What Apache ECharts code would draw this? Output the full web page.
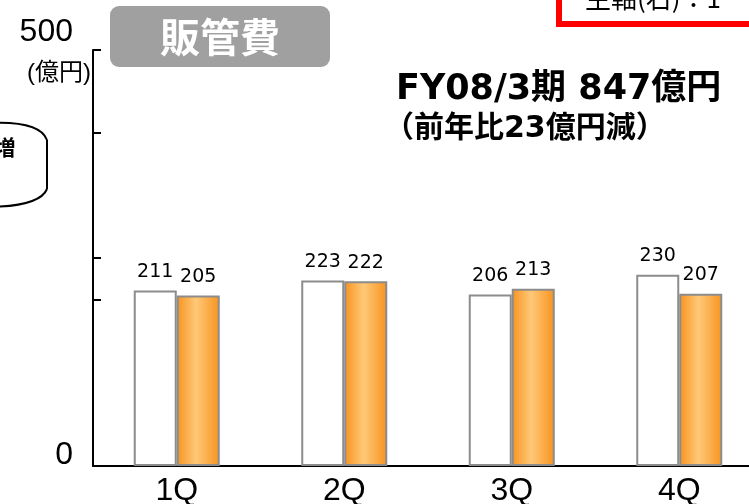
<!DOCTYPE html>
<html><head><meta charset="utf-8">
<script src="https://cdn.jsdelivr.net/npm/echarts@6/dist/echarts.min.js"></script>
<style>html,body{margin:0;padding:0;background:#fff}#c{width:749px;height:504px}</style>
</head><body><div id="c"></div>
<script>
const categories = ['1Q', '2Q', '3Q', '4Q'];
const prevYear = [211, 223, 206, 230];
const thisYear = [205, 222, 213, 207];
const yTickValues = [200, 250, 400, 500];
const yLabelValues = [0, 500];
const titleText = '販管費';
const headline1 = 'FY08/3期 847億円';
const headline2 = '（前年比23億円減）';
const unitText = '(億円)';
const noteText = '主軸(右)：1';
const sideText = '増';

const chart = echarts.init(document.getElementById('c'), null, {renderer: 'canvas'});
const LAT = 'Liberation Sans, Arial, sans-serif';
const CJK = 'Noto Sans CJK JP, sans-serif';
const orangeGrad = {type: 'linear', x: 0, y: 0, x2: 1, y2: 0, colorStops: [
  {offset: 0, color: '#f7931e'}, {offset: 0.45, color: '#ffc878'}, {offset: 1, color: '#f7931e'}]};
const barLabel = {show: true, position: 'top', distance: 9, color: '#000', fontSize: 19, fontFamily: 'DejaVu Sans, sans-serif'};

chart.setOption({
  animation: false,
  grid: {left: 93, width: 670, top: 50, bottom: 38, containLabel: false, outerBoundsMode: 'none'},
  xAxis: {
    type: 'category', data: categories,
    axisLine: {lineStyle: {color: '#000', width: 2}},
    axisTick: {inside: true, length: 6, lineStyle: {color: '#000', width: 2}},
    axisLabel: {color: '#000', fontSize: 32, fontFamily: LAT, margin: 9}
  },
  yAxis: {
    type: 'value', min: 0, max: 500, interval: 50,
    splitLine: {show: false},
    axisLine: {show: true, lineStyle: {color: '#000', width: 2}},
    axisTick: {show: true, inside: true, length: 8, customValues: yTickValues, lineStyle: {color: '#000', width: 2}},
    axisLabel: {
      color: '#000', fontSize: 32, fontFamily: LAT, margin: 20, verticalAlign: 'middle', customValues: yLabelValues,
      formatter: function (v) { return '{a' + v + '|' + v + '}'; },
      rich: {
        a0: {fontSize: 32, fontFamily: LAT, color: '#000', padding: [0, 0, 22, 0]},
        a500: {fontSize: 32, fontFamily: LAT, color: '#000', padding: [0, 0, 36, 0]}
      }
    }
  },
  series: [
    {type: 'bar', data: prevYear, barWidth: 43, barGap: '0%',
     itemStyle: {color: '#fff', borderColor: '#8c8c8c', borderWidth: 2}, label: barLabel},
    {type: 'bar', data: thisYear, barWidth: 43,
     itemStyle: {color: orangeGrad, borderColor: '#8c8c8c', borderWidth: 2}, label: barLabel}
  ],
  graphic: [
    {type: 'rect', shape: {x: 110, y: 6, width: 220, height: 61, r: 9}, style: {fill: '#a0a0a0'}},
    {type: 'text', x: 220, y: 37, style: {text: titleText, fill: '#fff', font: 'bold 40px ' + CJK, textAlign: 'center', textVerticalAlign: 'middle'}},
    {type: 'text', x: 396, y: 90, style: {text: headline1, fill: '#000', font: 'bold 35px DejaVu Sans, ' + CJK, textAlign: 'left', textVerticalAlign: 'middle'}},
    {type: 'text', x: 384, y: 129, style: {text: headline2, fill: '#000', font: 'bold 30px DejaVu Sans, ' + CJK, textAlign: 'left', textVerticalAlign: 'middle'}},
    {type: 'text', x: 91, y: 73, style: {text: unitText, fill: '#000', font: '24px Liberation Sans, ' + CJK, textAlign: 'right', textVerticalAlign: 'middle'}},
    {type: 'rect', shape: {x: 559, y: -30, width: 260, height: 54}, style: {fill: '#fff', stroke: '#ff0000', lineWidth: 6}},
    {type: 'text', x: 585, y: 11, style: {text: noteText, fill: '#000', font: '26px ' + CJK, textAlign: 'left', textVerticalAlign: 'bottom'}},
    {type: 'bezierCurve', shape: {x1: -10, y1: 123, cpx1: 40, cpy1: 121, x2: 47, y2: 140}, style: {stroke: '#000', lineWidth: 2, fill: null}},
    {type: 'line', shape: {x1: 47, y1: 140, x2: 47, y2: 189}, style: {stroke: '#000', lineWidth: 2}},
    {type: 'bezierCurve', shape: {x1: 47, y1: 189, cpx1: 40, cpy1: 206, x2: -10, y2: 207}, style: {stroke: '#000', lineWidth: 2, fill: null}},
    {type: 'text', x: 5, y: 147, style: {text: sideText, fill: '#000', font: 'bold 21px ' + CJK, textAlign: 'center', textVerticalAlign: 'middle'}}
  ]
});
</script></body></html>
